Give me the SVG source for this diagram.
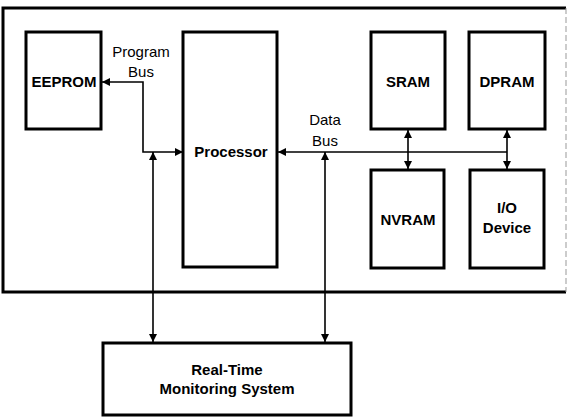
<svg xmlns="http://www.w3.org/2000/svg" width="568" height="418" viewBox="0 0 568 418">
<defs>
<marker id="ah" viewBox="0 0 10 10" refX="10" refY="5" markerWidth="9" markerHeight="8" markerUnits="userSpaceOnUse" orient="auto-start-reverse">
<path d="M0,0 L10,5 L0,10 z" fill="#000"/>
</marker>
<style>
.box{fill:#fff;stroke:#000;stroke-width:3}
.lbl{font-family:"Liberation Sans",Arial,sans-serif;font-size:15px;font-weight:bold;text-anchor:middle;fill:#000}
.bus{font-family:"Liberation Sans",Arial,sans-serif;font-size:15px;text-anchor:middle;fill:#000}
.con{fill:none;stroke:#000;stroke-width:1.6}
</style>
</defs>
<rect width="568" height="418" fill="#fff"/>
<g id="system">
<path d="M566,8 L3,8 L3,292 L566,292" fill="none" stroke="#000" stroke-width="3"/>
<path d="M566,8 L566,292" fill="none" stroke="#999" stroke-width="1" stroke-dasharray="6,3"/>
</g>
<g id="eeprom"><rect class="box" x="26" y="32" width="75" height="97"/><text class="lbl" x="64" y="87">EEPROM</text></g>
<g id="processor"><rect class="box" x="183" y="32" width="94" height="235"/><text class="lbl" x="231" y="157">Processor</text></g>
<g id="sram"><rect class="box" x="371" y="32" width="74" height="97"/><text class="lbl" x="408" y="87">SRAM</text></g>
<g id="dpram"><rect class="box" x="469" y="32" width="76" height="97"/><text class="lbl" x="507" y="87">DPRAM</text></g>
<g id="nvram"><rect class="box" x="371" y="170" width="73" height="98"/><text class="lbl" x="408" y="225">NVRAM</text></g>
<g id="io"><rect class="box" x="470" y="170" width="74" height="98"/><text class="lbl" x="507" y="213">I/O</text><text class="lbl" x="507" y="233">Device</text></g>
<g id="rtms"><rect class="box" x="103" y="343" width="248" height="72"/><text class="lbl" x="227" y="375">Real-Time</text><text class="lbl" x="227" y="394">Monitoring System</text></g>
<g id="connectors">
<path class="con" d="M183,152 L143,152 L143,82 L102,82" marker-start="url(#ah)" marker-end="url(#ah)"/>
<path class="con" d="M153,152 L153,342" marker-start="url(#ah)" marker-end="url(#ah)"/>
<path class="con" d="M507,152 L278,152" marker-end="url(#ah)"/>
<path class="con" d="M325,152 L325,342" marker-start="url(#ah)" marker-end="url(#ah)"/>
<path class="con" d="M408,130 L408,169" marker-start="url(#ah)" marker-end="url(#ah)"/>
<path class="con" d="M507,130 L507,169" marker-start="url(#ah)" marker-end="url(#ah)"/>
<text class="bus" x="141" y="57">Program</text>
<text class="bus" x="141" y="77">Bus</text>
<text class="bus" x="325" y="125">Data</text>
<text class="bus" x="325" y="146">Bus</text>
</g>
</svg>
